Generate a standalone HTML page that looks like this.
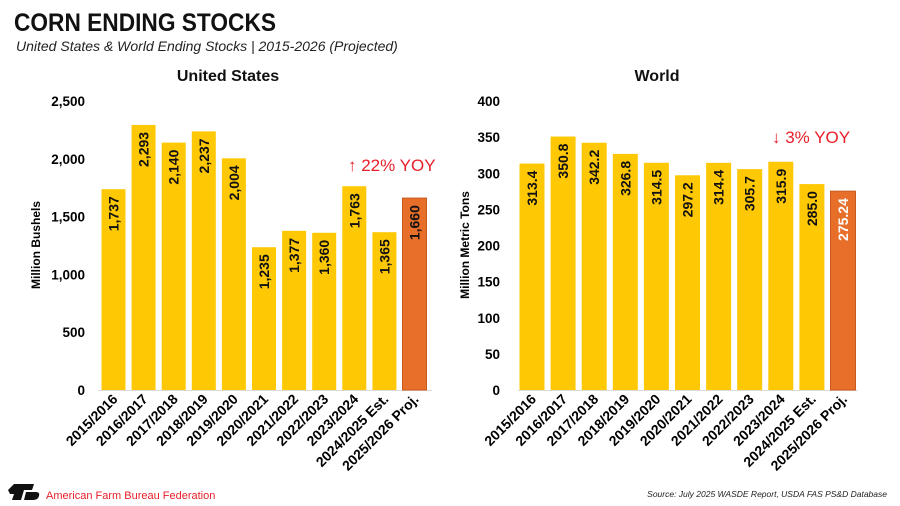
<!DOCTYPE html>
<html><head><meta charset="utf-8">
<style>
body{margin:0;background:#fff;width:900px;height:506px;overflow:hidden;font-family:"Liberation Sans",sans-serif}
svg{display:block}
</style></head>
<body>
<svg id="c" width="900" height="506">
<text x="14" y="31" font-size="25" font-weight="bold" fill="#111" textLength="262" lengthAdjust="spacingAndGlyphs">CORN ENDING STOCKS</text>
<text x="16" y="51" font-size="14" font-style="italic" fill="#222">United States &amp; World Ending Stocks | 2015-2026 (Projected)</text>
<text x="228" y="81" font-size="16" font-weight="bold" text-anchor="middle" fill="#111">United States</text>
<text x="657" y="81" font-size="16" font-weight="bold" text-anchor="middle" fill="#111">World</text>
<text transform="translate(40,245) rotate(-90)" font-size="12" font-weight="bold" text-anchor="middle">Million Bushels</text>
<text transform="translate(469,245) rotate(-90)" font-size="12" font-weight="bold" text-anchor="middle">Million Metric Tons</text>
<text x="348" y="171" font-size="17" fill="#e8202a">↑ 22% YOY</text>
<text x="772" y="143" font-size="17" fill="#e8202a">↓ 3% YOY</text>
<g>
<path d="M8 490 L14 484 L34 484 L32 490 L24 490 L21 500 L12 500 L14 494 L10 494Z M26 492 L36 492 Q40 492 39 496 Q38 500 33 500 L24 500Z" fill="#111"/>
<text x="46" y="499" font-size="11" fill="#e8202a">American Farm Bureau Federation</text>
</g>
<text x="887" y="497" font-size="8.5" font-style="italic" text-anchor="end" fill="#222">Source: July 2025 WASDE Report, USDA FAS PS&amp;D Database</text>
</svg>
<script>
const categories=["2015/2016","2016/2017","2017/2018","2018/2019","2019/2020","2020/2021","2021/2022","2022/2023","2023/2024","2024/2025 Est.","2025/2026 Proj."];
const usValues=[1737,2293,2140,2237,2004,1235,1377,1360,1763,1365,1660];
const usLabels=["1,737","2,293","2,140","2,237","2,004","1,235","1,377","1,360","1,763","1,365","1,660"];
const usTicks=[0,500,1000,1500,2000,2500];
const usTickLabels=["0","500","1,000","1,500","2,000","2,500"];
const worldValues=[313.4,350.8,342.2,326.8,314.5,297.2,314.4,305.7,315.9,285.0,275.24];
const worldLabels=["313.4","350.8","342.2","326.8","314.5","297.2","314.4","305.7","315.9","285.0","275.24"];
const worldTicks=[0,50,100,150,200,250,300,350,400];
const worldTickLabels=["0","50","100","150","200","250","300","350","400"];
const NS="http://www.w3.org/2000/svg";
const svg=document.getElementById('c');
function mk(t,a){const e=document.createElementNS(NS,t);for(const k in a)e.setAttribute(k,a[k]);svg.appendChild(e);return e;}
function panel(pre,vals,labs,ticks,tlabs,max,x0,pitch,bw,axL,axR,tickX){
  const y0=390,y1=101;
  const ys=v=>y0-(v/max)*(y0-y1);
  const xs=i=>x0+i*pitch;
  ticks.forEach((t,i)=>{const e=mk('text',{x:tickX,y:ys(t)+5,'font-size':13.5,'font-weight':'bold','text-anchor':'end'});e.textContent=tlabs[i];
    
    });
  const ax=mk('line',{x1:axL,x2:axR,y1:y0+0.5,y2:y0+0.5,stroke:'#d9d9d9','stroke-width':1});
  
  
  vals.forEach((v,i)=>{
    const last=i===vals.length-1;
    const r=mk('rect',{x:xs(i)-bw/2,y:ys(v),width:bw,height:y0-ys(v),fill:last?'#e86f2a':'#ffc805',stroke:last?'#c95a1c':'none','stroke-width':1});
    
    
    const t=mk('text',{transform:`translate(${xs(i)+5},${ys(v)+7}) rotate(-90)`,'font-size':14,'font-weight':'bold','text-anchor':'end',fill:last&&pre==='world'?'#fff':'#111'});
    t.textContent=labs[i];
    
    
    const c=mk('text',{transform:`translate(${xs(i)+5},${y0+10}) rotate(-45)`,'font-size':14,'font-weight':'bold','text-anchor':'end'});
    c.textContent=categories[i];
    
    
  });
}
panel('us',usValues,usLabels,usTicks,usTickLabels,2500,113.5,30.1,24,98,432,85);
panel('world',worldValues,worldLabels,worldTicks,worldTickLabels,400,532,31.1,25,518,858,500);
</script>
</body></html>
